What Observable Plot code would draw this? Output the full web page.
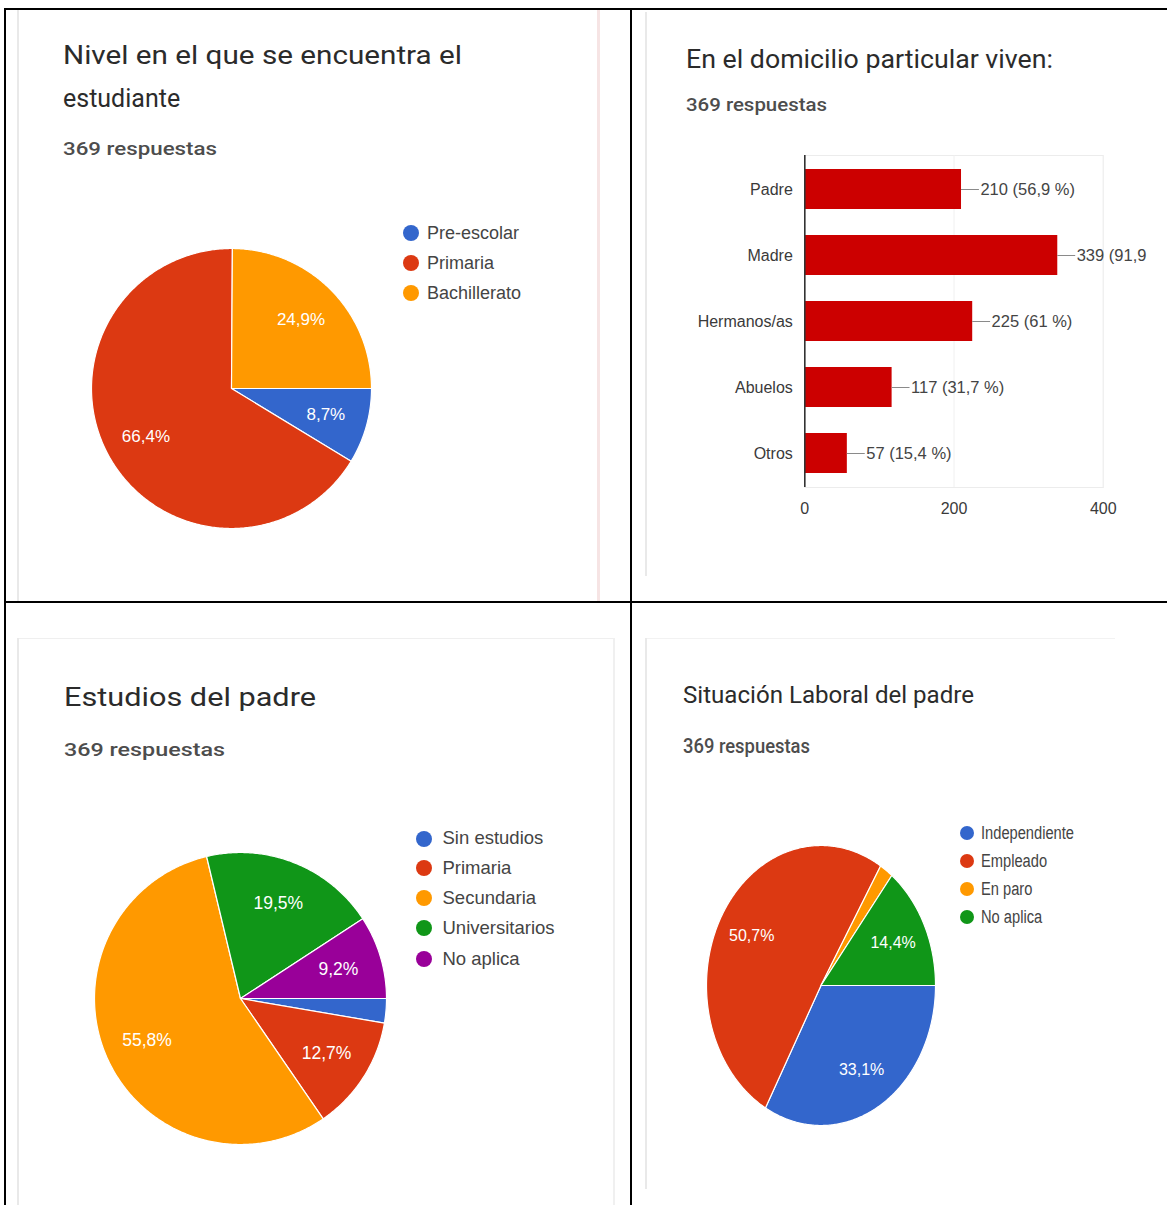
<!DOCTYPE html>
<html>
<head>
<meta charset="utf-8">
<script src="https://cdn.jsdelivr.net/npm/d3@7"></script>
<script src="https://cdn.jsdelivr.net/npm/@observablehq/plot@0.6"></script>
<style>
  html, body { margin: 0; padding: 0; background: #fff; }
  body { width: 1167px; height: 1205px; overflow: hidden; position: relative; }
  .abs { position: absolute; white-space: nowrap; }
  .line { position: absolute; background: #000; }
  .edge { position: absolute; background: #e9e9e9; }
  .title { font-family: Roboto, "Open Sans", sans-serif; color: #2b2b2b; font-weight: 400; line-height: 1; transform-origin: 0 50%; }
  .sub { font-family: Roboto, "Open Sans", sans-serif; color: #4d4d4d; font-weight: 500; line-height: 1; transform-origin: 0 50%; }
  .leg { font-family: "Liberation Sans", Arial, sans-serif; color: #444; line-height: 1; transform-origin: 0 50%; }
  .dot { position: absolute; border-radius: 50%; }
  .plotwrap svg { max-width: none !important; overflow: visible; }
  .clip { overflow: hidden; }
</style>
</head>
<body>
<div id="root"></div>
<script>
// ---------- data ----------
const nivelLabels = ["Pre-escolar", "Primaria", "Bachillerato"];
const nivelPct = [8.7, 66.4, 24.9];
const nivelColors = ["#3366cc", "#dc3912", "#ff9900"];

const viveCats = ["Padre", "Madre", "Hermanos/as", "Abuelos", "Otros"];
const viveCounts = [210, 339, 225, 117, 57];
const vivePctText = ["56,9", "91,9", "61", "31,7", "15,4"];
const viveTicks = [0, 200, 400];

const estudiosLabels = ["Sin estudios", "Primaria", "Secundaria", "Universitarios", "No aplica"];
const estudiosPct = [2.7, 12.7, 55.8, 19.5, 9.2];
const estudiosColors = ["#3366cc", "#dc3912", "#ff9900", "#109618", "#990099"];

const laboralLabels = ["Independiente", "Empleado", "En paro", "No aplica"];
const laboralPct = [33.1, 50.7, 1.9, 14.4];
const laboralColors = ["#3366cc", "#dc3912", "#ff9900", "#109618"];

const respuestas = "369 respuestas";

// ---------- helpers ----------
const body = document.body;
function el(cls, css, html) {
  const d = document.createElement("div");
  d.className = cls;
  Object.assign(d.style, css);
  if (html !== undefined) d.textContent = html;
  body.appendChild(d);
  return d;
}
function hline(x, y, w, h, c) { el("line", {left: x + "px", top: y + "px", width: w + "px", height: h + "px", background: c || "#000"}); }

// text with center-left anchor at (x, cy), font size fs, fitted to target width
function text(cls, str, x, cy, fs, target) {
  const d = el("abs " + cls, {left: x + "px", top: (cy - fs / 2) + "px", fontSize: fs + "px", height: fs + "px"}, str);
  if (target) {
    const w = d.getBoundingClientRect().width;
    d.style.transform = `scaleX(${target / w})`;
  }
  return d;
}
function legend(labels, colors, dotX, ys, textX, fs, r, sx) {
  labels.forEach((l, i) => {
    el("dot", {left: (dotX - r) + "px", top: (ys[i] - r) + "px", width: 2 * r + "px", height: 2 * r + "px", background: colors[i]});
    const t = text("leg", l, textX, ys[i], fs);
    if (sx) t.style.transform = `scaleX(${sx})`;
  });
}
const fmt = v => d3.format(".1f")(v).replace(".", ",") + "%";

function pie(labels, pct, colors, cx, cy, rx, ry, fs, minLabel) {
  const m = 12;
  const W = 2 * rx + 2 * m, H = 2 * ry + 2 * m;
  const total = d3.sum(pct);
  let a = Math.PI / 2; // start at 3 o'clock, clockwise
  const pts = [], lab = [];
  pct.forEach((v, i) => {
    const a0 = a, a1 = a + 2 * Math.PI * v / total; a = a1;
    const n = Math.max(2, Math.ceil((a1 - a0) / 0.01));
    pts.push({label: labels[i], x: 0, y: 0});
    for (let k = 0; k <= n; k++) {
      const t = a0 + (a1 - a0) * k / n;
      pts.push({label: labels[i], x: Math.sin(t), y: Math.cos(t)});
    }
    pts.push({label: labels[i], x: 0, y: 0});
    if (v >= minLabel) {
      const mid = (a0 + a1) / 2;
      lab.push({x: 0.7 * Math.sin(mid), y: 0.7 * Math.cos(mid), t: fmt(v)});
    }
  });
  const svg = Plot.plot({
    width: W, height: H, margin: 0,
    x: {domain: [-1, 1], range: [m, m + 2 * rx], axis: null},
    y: {domain: [-1, 1], range: [m + 2 * ry, m], axis: null},
    color: {domain: labels, range: colors},
    style: {background: "transparent", maxWidth: "none", overflow: "visible"},
    marks: [
      Plot.line(pts, {x: "x", y: "y", z: "label", fill: "label", stroke: "white", strokeWidth: 1.2, curve: "linear"}),
      Plot.text(lab, {x: "x", y: "y", text: "t", fill: "white", fontSize: fs, fontFamily: "Liberation Sans, Arial, sans-serif"})
    ]
  });
  const w = el("abs plotwrap", {left: (cx - rx - m) + "px", top: (cy - ry - m) + "px", width: W + "px", height: H + "px"});
  w.appendChild(svg);
}

// ---------- table lines ----------
hline(4, 8, 1163, 2);     // top
hline(4, 8, 2, 1197);     // left
hline(630, 8, 2, 1197);   // middle vertical
hline(4, 601, 1163, 2);   // middle horizontal

// ---------- card edges ----------
el("edge", {left: "17px", top: "10px", width: "2px", height: "591px"});
el("edge", {left: "597px", top: "10px", width: "3px", height: "591px", background: "#f6e4e4"});
el("edge", {left: "645px", top: "12px", width: "2px", height: "564px"});
el("edge", {left: "17px", top: "638px", width: "598px", height: "1px", background: "#efefef"});
el("edge", {left: "17px", top: "638px", width: "2px", height: "567px"});
el("edge", {left: "613px", top: "638px", width: "2px", height: "567px", background: "#f0f0f0"});
el("edge", {left: "645px", top: "638px", width: "470px", height: "1px", background: "#f2f2f2"});
el("edge", {left: "645px", top: "638px", width: "2px", height: "551px"});

// ---------- top-left: Nivel ----------
text("title", "Nivel en el que se encuentra el", 63, 55.5, 25, 399);
text("title", "estudiante", 63, 98, 25);
text("sub", respuestas, 63, 148.5, 19, 154);
pie(nivelLabels, nivelPct, nivelColors, 231, 388, 140, 140, 17, 3);
legend(nivelLabels, nivelColors, 411, [233, 263, 292.5], 427, 18, 8);

// ---------- top-right: domicilio ----------
text("title", "En el domicilio particular viven:", 686, 59.5, 25, 367);
text("sub", respuestas, 686, 104.7, 19, 141);
{
  const data = viveCats.map((c, i) => ({cat: c, v: viveCounts[i], p: vivePctText[i]}));
  const left = 660, top = 141;
  const W = 600, H = 390;
  const mL = 804.3 - left, mT = 155 - top, plotR = 1102.8 - left, plotB = 487 - top;
  const svg = Plot.plot({
    width: W, height: H,
    marginLeft: mL, marginTop: mT, marginRight: W - plotR, marginBottom: H - plotB,
    x: {domain: [0, 400], ticks: viveTicks, tickSize: 0, tickPadding: 15, label: null},
    y: {domain: viveCats, paddingInner: 0.4, paddingOuter: 0.2, tickSize: 0, tickPadding: 12, label: null},
    style: {background: "transparent", maxWidth: "none", fontFamily: "Liberation Sans, Arial, sans-serif", fontSize: "16px", color: "#3a3a3a", overflow: "visible"},
    marks: [
      Plot.frame({stroke: "#ececec"}),
      Plot.ruleX(viveTicks.slice(1), {stroke: "#f0f0f0"}),
      Plot.barX(data, {y: "cat", x: "v", fill: "#cc0000"}),
      Plot.ruleX([0], {stroke: "#333", strokeWidth: 1.6}),
      Plot.ruleY(data, {y: "cat", x1: "v", x2: d => d.v + 24, stroke: "#8a8a8a", strokeWidth: 1}),
      Plot.text(data, {y: "cat", x: d => d.v + 24, text: d => `${d.v} (${d.p} %)`, textAnchor: "start", dx: 1, fill: "#444", fontSize: 16.5})
    ]
  });
  // the source screenshot is cropped at about x = 1149
  const clip = el("abs clip", {left: left + "px", top: top + "px", width: (1149 - left) + "px", height: H + "px"});
  const w = document.createElement("div");
  w.className = "plotwrap";
  Object.assign(w.style, {width: W + "px", height: H + "px"});
  w.appendChild(svg);
  clip.appendChild(w);
}

// ---------- bottom-left: Estudios ----------
text("title", "Estudios del padre", 64, 697.7, 25.5, 252);
text("sub", respuestas, 64, 749, 19, 161);
pie(estudiosLabels, estudiosPct, estudiosColors, 240, 998, 146, 146, 17.5, 5);
legend(estudiosLabels, estudiosColors, 424, [838.5, 868, 898, 928, 959], 442.5, 18.5, 8);

// ---------- bottom-right: Situación laboral ----------
text("title", "Situación Laboral del padre", 682.5, 695, 24, 291);
text("sub", respuestas, 682.5, 747, 19.5, 127);
pie(laboralLabels, laboralPct, laboralColors, 820, 985, 114.5, 140, 16, 5);
legend(laboralLabels, laboralColors, 967, [832.7, 860.7, 889.3, 917.3], 980.5, 18, 7, 0.815);
</script>
</body>
</html>
